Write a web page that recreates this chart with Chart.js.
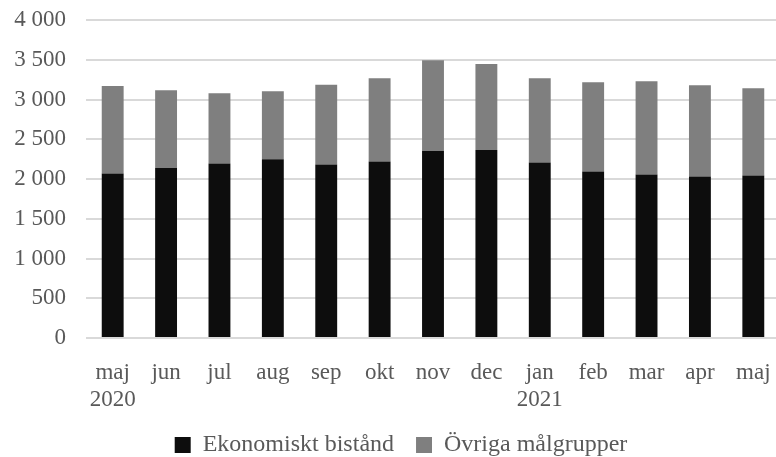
<!DOCTYPE html>
<html>
<head>
<meta charset="utf-8">
<script src="https://cdn.jsdelivr.net/npm/chart.js@4/dist/chart.umd.min.js"></script>
<style>
  html, body { margin: 0; padding: 0; background: #fff; overflow: hidden; }
  #wrap { position: relative; width: 780px; height: 457px; }
</style>
</head>
<body>
<div id="wrap"><canvas id="c"></canvas></div>
<script>
// ── DATA ─────────────────────────────────────────────
var months  = ['maj', 'jun', 'jul', 'aug', 'sep', 'okt', 'nov', 'dec', 'jan', 'feb', 'mar', 'apr', 'maj'];
var years   = ['2020', '', '', '', '', '', '', '', '2021', '', '', '', ''];
var ekonomiskt = [2069, 2137, 2196, 2250, 2183, 2221, 2351, 2364, 2208, 2095, 2057, 2032, 2044];
var ovriga     = [1102,  979,  883,  854, 1001, 1047, 1144, 1081, 1060, 1123, 1173, 1148, 1098];
var yTicks  = [0, 500, 1000, 1500, 2000, 2500, 3000, 3500, 4000];

var FONT = "'Liberation Serif', 'Times New Roman', serif";
var TXT  = '#595959';

function fmtNum(v) {
  return String(v).replace(/\B(?=(\d{3})+(?!\d))/g, ' ');
}

var labels = months.map(function (m, i) {
  return years[i] ? [m, years[i]] : m;
});

// legend sits a little right of centre in the original
var legendShift = {
  id: 'legendShift',
  afterLayout: function (chart) {
    if (!chart.legend) return;
    chart.legend.left += 11;
    chart.legend.right += 11;
  }
};

new Chart(document.getElementById('c').getContext('2d'), {
  type: 'bar',
  data: {
    labels: labels,
    datasets: [
      { label: 'Ekonomiskt bistånd', data: ekonomiskt, backgroundColor: '#0d0d0d' },
      { label: 'Övriga målgrupper',  data: ovriga,     backgroundColor: '#7f7f7f' }
    ]
  },
  plugins: [legendShift],
  options: {
    responsive: true,
    maintainAspectRatio: false,
    animation: false,
    barPercentage: 0.41,
    categoryPercentage: 1,
    layout: { padding: { top: 20, left: 0, right: 0, bottom: -10 } },
    plugins: {
      tooltip: { enabled: false },
      legend: {
        position: 'bottom',
        labels: {
          font: { family: FONT, size: 24 },
          color: TXT,
          boxWidth: 16,
          boxHeight: 16,
          padding: 22
        }
      }
    },
    scales: {
      x: {
        stacked: true,
        grid: { display: false, drawTicks: false },
        border: { display: false },
        ticks: {
          font: { family: FONT, size: 23 },
          color: TXT,
          padding: 21,
          maxRotation: 0,
          autoSkip: false
        },
        afterFit: function (axis) {
          axis.height = 73;
          axis.paddingLeft = 0;
          axis.paddingRight = 0;
        }
      },
      y: {
        stacked: true,
        min: 0,
        max: 4000,
        afterBuildTicks: function (axis) {
          axis.ticks = yTicks.map(function (v) { return { value: v }; });
        },
        grid: { color: '#d9d9d9', lineWidth: 2, drawTicks: false },
        border: { display: false },
        ticks: {
          font: { family: FONT, size: 23 },
          color: TXT,
          padding: 20,
          callback: function (v) { return fmtNum(v); }
        },
        afterFit: function (axis) {
          axis.width = 86;
          axis.paddingTop = 0;
          axis.paddingBottom = 0;
        }
      }
    }
  }
});
</script>
</body>
</html>
